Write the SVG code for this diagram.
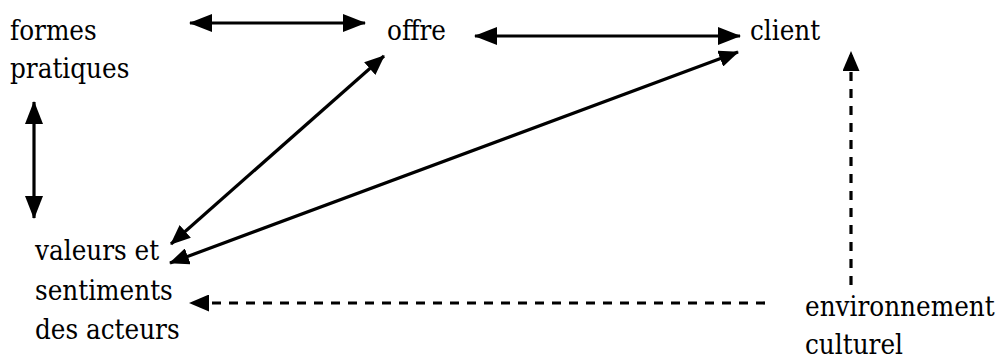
<svg xmlns="http://www.w3.org/2000/svg" width="1001" height="362" viewBox="0 0 1001 362">
<style>
.t{font-family:"DejaVu Serif Condensed","DejaVu Serif",serif;font-stretch:condensed;font-size:27.5px;fill:#000}
.c{stroke:#000;stroke-width:3.2;fill:none}
.d{stroke-dasharray:9 8}
</style>
<defs>
<marker id="ah" markerUnits="userSpaceOnUse" markerWidth="24" markerHeight="18" refX="22" refY="9" orient="auto-start-reverse" viewBox="0 0 24 18">
<path d="M0,0 L23,9 L0,18 z" fill="#000"/>
</marker>
<marker id="ahs" markerUnits="userSpaceOnUse" markerWidth="21" markerHeight="17" refX="19" refY="8.5" orient="auto-start-reverse" viewBox="0 0 21 17">
<path d="M0,0 L20,8.5 L0,17 z" fill="#000"/>
</marker>
</defs>
<rect width="1001" height="362" fill="#fff"/>
<g id="formes" class="t"><text x="10" y="40">formes</text><text x="10" y="78">pratiques</text></g>
<g id="offre" class="t"><text x="387" y="40">offre</text></g>
<g id="client" class="t"><text x="750" y="40">client</text></g>
<g id="valeurs" class="t"><text x="35" y="260">valeurs et</text><text x="35" y="300">sentiments</text><text x="35" y="339">des acteurs</text></g>
<g id="environnement" class="t"><text x="805" y="316">environnement</text><text x="805" y="354">culturel</text></g>
<g id="connectors">
<line class="c" x1="190" y1="23" x2="365" y2="23" marker-start="url(#ah)" marker-end="url(#ah)"/>
<line class="c" x1="475" y1="36" x2="740" y2="36" marker-start="url(#ah)" marker-end="url(#ah)"/>
<line class="c" x1="34" y1="102" x2="34" y2="218" marker-start="url(#ah)" marker-end="url(#ah)"/>
<line class="c" x1="171" y1="244" x2="384" y2="56" marker-start="url(#ahs)" marker-end="url(#ahs)"/>
<line class="c" x1="170" y1="263" x2="738" y2="52" marker-start="url(#ahs)" marker-end="url(#ahs)"/>
<line class="c d" x1="851" y1="285" x2="851" y2="52" marker-end="url(#ahs)"/>
<line class="c d" x1="765" y1="303" x2="190" y2="303" marker-end="url(#ahs)"/>
</g>
</svg>
